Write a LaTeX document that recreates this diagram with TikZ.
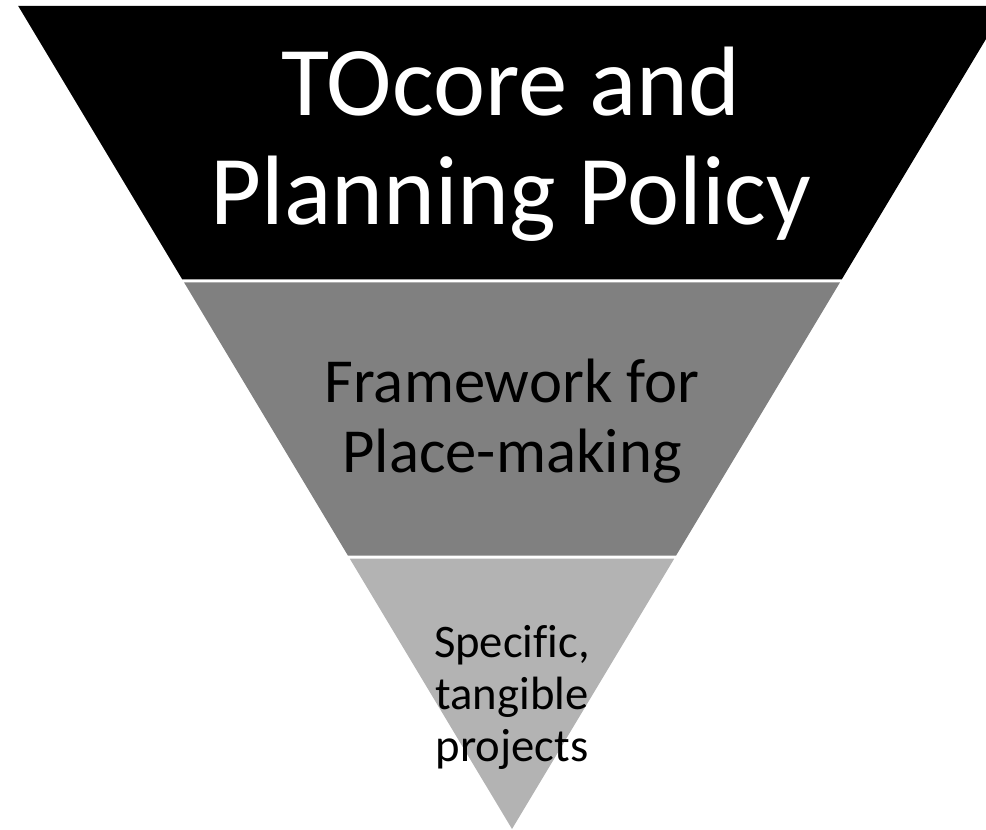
\documentclass[tikz,border=0pt]{standalone}
\usepackage{fontspec}
\setmainfont{Carlito}[Ligatures=CommonOff]
\definecolor{bandmid}{RGB}{128,128,128}
\definecolor{bandlow}{RGB}{179,179,179}
\begin{document}
\begin{tikzpicture}[x=0.75pt, y=-0.75pt, band/.style={draw=none}, label text/.style={align=center,inner sep=0pt}]
\useasboundingbox (0,0) rectangle (986,830);
\clip (0,0) rectangle (986,830);
% the three bands of the funnel
\fill [band, black] (18.2,6) -- (1005.8,6) -- (841.7,279.5) -- (182.3,279.5) -- cycle;
\fill [band, bandmid] (184.1,282.5) -- (839.9,282.5) -- (676,555.7) -- (348,555.7) -- cycle;
\fill [band, bandlow] (349.8,558.7) -- (674.2,558.7) -- (512,829) -- cycle;
% texts
\node [label text, text=white, font=\fontsize{74}{82}\selectfont] (policy) at (511,144) {TOcore and\\Planning Policy};
\node [label text, font=\fontsize{47}{52.5}\selectfont] (framework) at (512,421) {Framework for\\Place-making};
\node [label text, font=\fontsize{35}{39}\selectfont] (projects) at (512,697) {Specific,\\tangible\\projects};
\end{tikzpicture}
\end{document}
